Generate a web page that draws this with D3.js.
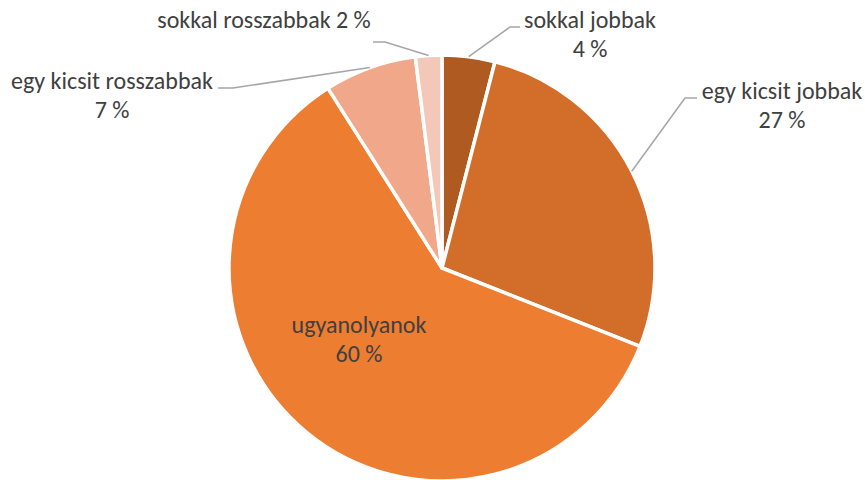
<!DOCTYPE html>
<html>
<head>
<meta charset="utf-8">
<script src="https://cdn.jsdelivr.net/npm/d3@7"></script>
<style>
  body { margin: 0; background: #fff; }
  text { font-family: Carlito, Calibri, "Open Sans", sans-serif; fill: #404040; }
</style>
</head>
<body>
<div id="chart"></div>
<script>
// data
var categories = ["sokkal jobbak", "egy kicsit jobbak", "ugyanolyanok", "egy kicsit rosszabbak", "sokkal rosszabbak"];
var values = [4, 27, 60, 7, 2];
var colors = ["#AE5A21", "#D26E2A", "#ED7D31", "#F1A78A", "#F4C8B8"];

var width = 865, height = 480;
var cx = 442, cy = 268, radius = 213;

// label layout (relative to the pie centre): text centre x, first baseline y,
// whether both lines go on one row, and the elbow of the leader line
var labelLayout = [
  {dx: 148, dy: -240, oneLine: false, elbow: [[68, -241], [78, -241]]},
  {dx: 340, dy: -169, oneLine: false, elbow: [[243, -170], [255, -170]]},
  {dx: -83, dy: 65, oneLine: false, inside: true},
  {dx: -330, dy: -179, oneLine: false, elbow: [[-209, -180], [-224, -180]]},
  {dx: -178, dy: -240, oneLine: true, elbow: [[-57, -226], [-69, -226]]}
];

var svg = d3.select("#chart").append("svg")
  .attr("width", width)
  .attr("height", height);

var g = svg.append("g")
  .attr("transform", "translate(" + cx + "," + cy + ")");

var pie = d3.pie().sort(null).value(function(d) { return d; });
var arcs = pie(values);

var arc = d3.arc().innerRadius(0).outerRadius(radius);
var edge = d3.arc().innerRadius(radius).outerRadius(radius);

g.selectAll(".slice")
  .data(arcs)
  .enter().append("path")
  .attr("class", "slice")
  .attr("d", arc)
  .attr("fill", function(d, i) { return colors[i]; })
  .attr("stroke", "#fff")
  .attr("stroke-width", 3.5)
  .attr("stroke-linejoin", "round");

// leader lines for the outside labels
g.selectAll(".leader")
  .data(arcs.filter(function(d, i) { return !labelLayout[i].inside; }))
  .enter().append("polyline")
  .attr("class", "leader")
  .attr("fill", "none")
  .attr("stroke", "#A6A6A6")
  .attr("stroke-width", 1.5)
  .attr("points", function(d) {
    var lay = labelLayout[d.index];
    var p = edge.centroid(d);
    return [p].concat(lay.elbow).map(function(q) { return q.join(","); }).join(" ");
  });

var fmt = function(v) { return v + " %"; };

var labels = g.selectAll(".label")
  .data(arcs)
  .enter().append("text")
  .attr("class", "label")
  .attr("text-anchor", "middle")
  .style("font-size", "24px");

labels.each(function(d, i) {
  var lay = labelLayout[i];
  var t = d3.select(this);
  if (lay.oneLine) {
    t.append("tspan").attr("x", lay.dx).attr("y", lay.dy)
      .text(categories[i] + " " + fmt(values[i]));
  } else {
    t.append("tspan").attr("x", lay.dx).attr("y", lay.dy).text(categories[i]);
    t.append("tspan").attr("x", lay.dx).attr("y", lay.dy + 29).text(fmt(values[i]));
  }
});
</script>
</body>
</html>
